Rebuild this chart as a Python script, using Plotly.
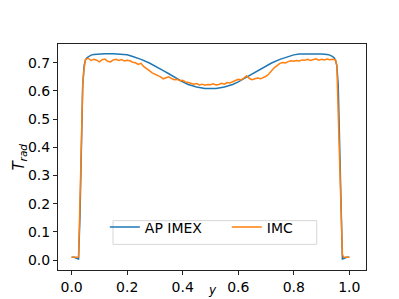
import plotly.graph_objects as go

# AP IMEX (smooth)
ap_x = [0.0, 0.01, 0.02, 0.025, 0.03, 0.035, 0.04, 0.045, 0.05, 0.055, 0.06, 0.07, 0.08,
        0.1, 0.12, 0.15, 0.18, 0.2, 0.22, 0.25, 0.28, 0.3, 0.33, 0.35, 0.38, 0.4, 0.42,
        0.45, 0.48, 0.5, 0.52, 0.55, 0.58, 0.6, 0.62, 0.65, 0.67, 0.7, 0.72, 0.75, 0.78,
        0.8, 0.82, 0.85, 0.88, 0.9, 0.92, 0.93, 0.94, 0.945, 0.95, 0.955, 0.96, 0.965,
        0.97, 0.975, 0.98, 0.99, 1.0]
ap_v = [0.010, 0.010, 0.006, 0.004, 0.15, 0.40, 0.62, 0.69, 0.71, 0.718, 0.722, 0.727, 0.729,
        0.731, 0.732, 0.732, 0.731, 0.728, 0.722, 0.712, 0.699, 0.689, 0.672, 0.661, 0.643,
        0.632, 0.623, 0.614, 0.609, 0.608, 0.609, 0.614, 0.623, 0.632, 0.643, 0.661, 0.672,
        0.689, 0.699, 0.712, 0.722, 0.728, 0.731, 0.732, 0.732, 0.731, 0.729, 0.727, 0.722,
        0.718, 0.71, 0.69, 0.62, 0.40, 0.15, 0.004, 0.006, 0.010, 0.010]

# IMC (noisy)
imc_x = [0.0, 0.01, 0.02, 0.025, 0.03, 0.035, 0.04, 0.045, 0.05,
         0.06, 0.07, 0.08, 0.09, 0.10, 0.11, 0.12, 0.13, 0.14, 0.15, 0.16, 0.17, 0.18, 0.19,
         0.20, 0.21, 0.22, 0.23, 0.24, 0.25, 0.26, 0.27, 0.28, 0.29, 0.30, 0.31, 0.32, 0.33,
         0.34, 0.35, 0.36, 0.37, 0.38, 0.39, 0.40, 0.41, 0.42, 0.43, 0.44, 0.45, 0.46, 0.47,
         0.48, 0.49, 0.50, 0.51, 0.52, 0.53, 0.54, 0.55, 0.56, 0.57, 0.58, 0.59, 0.60, 0.61,
         0.62, 0.63, 0.64, 0.65, 0.66, 0.67, 0.68, 0.69, 0.70, 0.71, 0.72, 0.73, 0.74, 0.75,
         0.76, 0.77, 0.78, 0.79, 0.80, 0.81, 0.82, 0.83, 0.84, 0.85, 0.86, 0.87, 0.88, 0.89,
         0.90, 0.91, 0.92, 0.93, 0.94, 0.95, 0.955, 0.96, 0.965, 0.97, 0.975, 0.98, 0.99, 1.0]
imc_v = [0.010, 0.010, 0.010, 0.011, 0.20, 0.42, 0.62, 0.68, 0.712,
         0.716, 0.708, 0.712, 0.709, 0.703, 0.711, 0.713, 0.705, 0.703, 0.710, 0.712, 0.708,
         0.711, 0.706, 0.709, 0.707, 0.702, 0.700, 0.694, 0.698, 0.686, 0.680, 0.672, 0.664,
         0.660, 0.654, 0.650, 0.643, 0.647, 0.650, 0.644, 0.640, 0.641, 0.636, 0.638, 0.632,
         0.630, 0.627, 0.624, 0.626, 0.621, 0.624, 0.620, 0.623, 0.622, 0.625, 0.621, 0.623,
         0.627, 0.624, 0.630, 0.628, 0.634, 0.637, 0.641, 0.639, 0.645, 0.654, 0.644, 0.640,
         0.643, 0.646, 0.643, 0.648, 0.652, 0.660, 0.672, 0.683, 0.690, 0.698, 0.701, 0.699,
         0.704, 0.707, 0.705, 0.708, 0.706, 0.710, 0.709, 0.712, 0.708, 0.711, 0.714, 0.709,
         0.712, 0.710, 0.713, 0.711, 0.712, 0.710, 0.69, 0.52, 0.35, 0.18, 0.02, 0.010, 0.010,
         0.010]

x_ticks = [0.0, 0.2, 0.4, 0.6, 0.8, 1.0]
y_ticks = [0.0, 0.1, 0.2, 0.3, 0.4, 0.5, 0.6, 0.7]

FONT = "DejaVu Sans"

fig = go.Figure()
fig.add_trace(go.Scatter(x=ap_x, y=ap_v, mode="lines", name="AP IMEX",
                         line=dict(color="#1f77b4", width=1.5)))
fig.add_trace(go.Scatter(x=imc_x, y=imc_v, mode="lines", name="IMC",
                         line=dict(color="#ff7f0e", width=1.5)))

axis_common = dict(showline=True, linecolor="#222222", linewidth=1, mirror=True,
                   ticks="outside", ticklen=4, tickwidth=1, tickcolor="#222222",
                   showgrid=False, zeroline=False,
                   tickfont=dict(family=FONT, size=14, color="black"))

fig.update_xaxes(range=[-0.049, 1.06], tickvals=x_ticks,
                 ticktext=[f"{v:.1f}" for v in x_ticks], **axis_common)
fig.update_yaxes(range=[-0.035, 0.7665], tickvals=y_ticks,
                 ticktext=[f"{v:.1f}" for v in y_ticks], **axis_common)

fig.update_layout(
    width=399, height=299,
    margin=dict(l=50, r=41, t=36, b=34, pad=0),
    paper_bgcolor="white", plot_bgcolor="white",
    font=dict(family=FONT, size=14, color="black"),
    showlegend=True,
    legend=dict(orientation="h", x=0.152, y=0.188, xanchor="left", yanchor="middle",
                bgcolor="rgba(0,0,0,0)", borderwidth=0,
                font=dict(family=FONT, size=14, color="black"),
                entrywidth=77, entrywidthmode="pixels", tracegroupgap=0),
    shapes=[
        dict(type="rect", xref="paper", yref="paper", x0=0.1786, x1=0.84,
             y0=0.1135, y1=0.2183, line=dict(color="#d6d6d6", width=1),
             fillcolor="rgba(255,255,255,0.8)", layer="below"),
    ],
    annotations=[
        dict(text="<i>T</i><sub><i>rad</i></sub>", xref="paper", yref="paper",
             x=-0.128, y=0.5, xanchor="center", yanchor="middle", textangle=-90,
             showarrow=False, font=dict(family=FONT, size=15, color="black")),
        dict(text="<i>y</i>", xref="paper", yref="paper",
             x=0.5, y=-0.09, xanchor="center", yanchor="middle",
             showarrow=False, font=dict(family=FONT, size=12, color="black")),
    ],
)

fig.write_html("out.html")
